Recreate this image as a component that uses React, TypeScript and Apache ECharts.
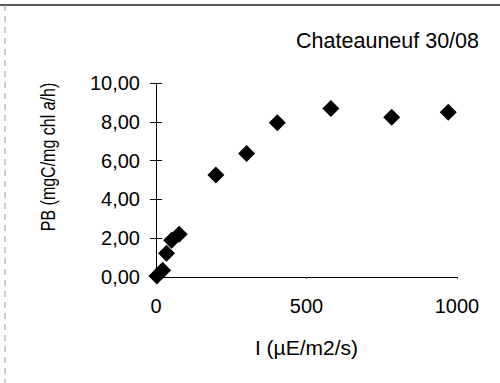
import React, { useEffect, useRef } from "react";
import * as echarts from "echarts";

const irradiance = [3, 22, 35, 52, 77, 199, 301, 403, 581, 783, 971];
const pb = [0.05, 0.35, 1.22, 1.9, 2.2, 5.26, 6.37, 7.95, 8.69, 8.23, 8.49];
const titleText = "Chateauneuf 30/08";
const xAxisName = "I (µE/m2/s)";
const yTicks = { min: 0, max: 10, interval: 2 };
const xTicks = { min: 0, max: 1000, interval: 500 };

const FONT = "'Liberation Sans', Arial, sans-serif";

export default function App() {
  const ref = useRef<HTMLDivElement>(null);
  useEffect(() => {
    if (!ref.current) return;
    const chart = echarts.init(ref.current, null, { renderer: "svg" });
    const data = irradiance.map((x, i) => [x, pb[i]]);
    chart.setOption({
      animation: false,
      backgroundColor: "#ffffff",
      textStyle: { fontFamily: FONT },
      title: {
        text: titleText,
        right: 16,
        top: 25,
        textStyle: { fontFamily: FONT, fontSize: 21.5, fontWeight: "normal", color: "#000" },
      },
      grid: { left: 156, right: 43, top: 83, bottom: 106, containLabel: false },
      xAxis: [
        {
          type: "value",
          min: xTicks.min,
          max: xTicks.max,
          interval: xTicks.interval,
          splitLine: { show: false },
          axisLine: { show: true, onZero: false, lineStyle: { color: "#000", width: 1 } },
          axisTick: { show: true, length: 2, lineStyle: { color: "#555" } },
          axisLabel: {
            margin: 19,
            fontFamily: FONT,
            fontSize: 20,
            color: "#000",
            formatter: (v: number) => String(v),
          },
          name: xAxisName,
          nameLocation: "middle",
          nameGap: 60,
          nameTextStyle: { fontFamily: FONT, fontSize: 21, color: "#000" },
        },
      ],
      yAxis: [
        {
          type: "value",
          min: yTicks.min,
          max: yTicks.max,
          interval: yTicks.interval,
          splitLine: { show: false },
          axisLine: { show: true, onZero: false, lineStyle: { color: "#000", width: 1 } },
          axisTick: { show: true, length: 6, lineStyle: { color: "#000" } },
          axisLabel: {
            margin: 16,
            fontFamily: FONT,
            fontSize: 20,
            color: "#000",
            formatter: (v: number) => v.toFixed(2).replace(".", ","),
          },
        },
        {
          type: "value",
          min: yTicks.min,
          max: yTicks.max,
          interval: yTicks.interval,
          position: "left",
          splitLine: { show: false },
          axisLine: { show: false },
          axisTick: { show: true, inside: true, length: 6, lineStyle: { color: "#000" } },
          axisLabel: { show: false },
        },
      ],
      graphic: [
        {
          type: "line",
          shape: { x1: 0, y1: 5, x2: 500, y2: 5 },
          style: { stroke: "#222", lineWidth: 1.5 },
        },
        {
          type: "line",
          shape: { x1: 5, y1: 5, x2: 5, y2: 383 },
          style: { stroke: "#999", lineWidth: 1, lineDash: [6, 5] },
        },
        {
          type: "text",
          x: 48,
          y: 157,
          rotation: Math.PI / 2,
          scaleX: 0.8,
          style: {
            text: "{n|PB (mgC/mg chl }{i|a}{n|/h)}",
            align: "center",
            verticalAlign: "middle",
            rich: {
              n: { fontFamily: FONT, fontSize: 20, fill: "#000" },
              i: { fontFamily: FONT, fontSize: 20, fontStyle: "italic", fill: "#000" },
            },
          },
        },
      ],
      series: [
        {
          type: "scatter",
          data,
          symbol: "diamond",
          symbolSize: 17,
          itemStyle: { color: "#000", opacity: 1 },
          xAxisIndex: 0,
          yAxisIndex: 0,
        },
      ],
    });
    return () => chart.dispose();
  }, []);
  return (
    <div
      ref={ref}
      style={{ position: "fixed", left: 0, top: 0, width: 500, height: 383 }}
    />
  );
}
